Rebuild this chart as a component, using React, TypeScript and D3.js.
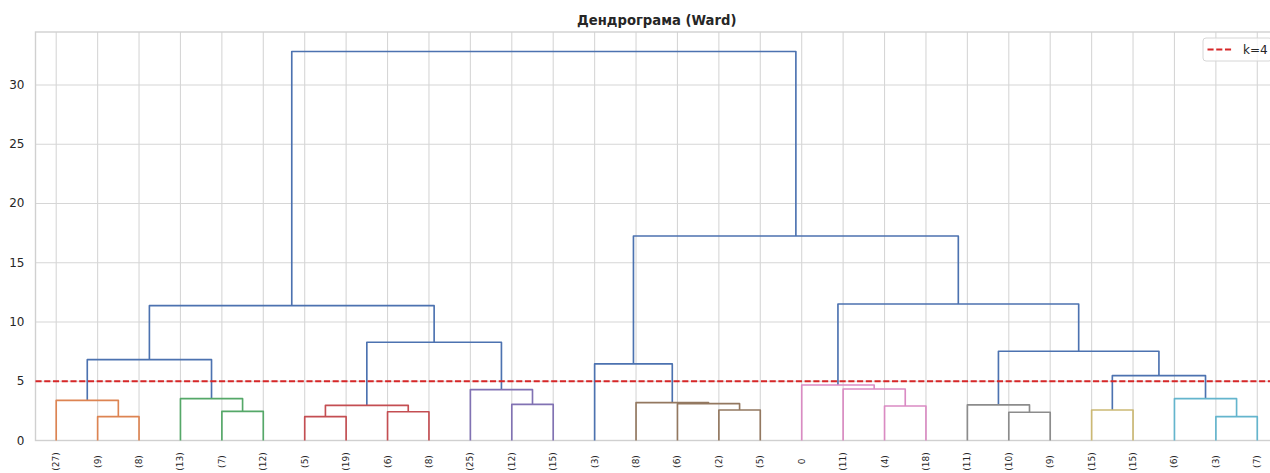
import React from 'react';
import * as d3 from 'd3';

// Leaf labels in dendrogram order (truncated clusters show their size)
const leafLabels: string[] = [
  '(27)', '(9)', '(8)', '(13)', '(7)', '(12)', '(5)', '(19)', '(6)', '(8)',
  '(25)', '(12)', '(15)', '(3)', '(8)', '(6)', '(2)', '(5)', '0', '(11)',
  '(4)', '(18)', '(11)', '(10)', '(9)', '(15)', '(15)', '(6)', '(3)', '(7)',
];

// Linkage rows: [left node, right node, merge distance]; node ids >= 30 refer to earlier rows
const linkage: [number, number, number][] = [
  [1, 2, 2.01],
  [6, 7, 2.01],
  [28, 29, 2.01],
  [23, 24, 2.38],
  [8, 9, 2.43],
  [4, 5, 2.46],
  [16, 17, 2.57],
  [25, 26, 2.57],
  [20, 21, 2.91],
  [31, 34, 2.97],
  [22, 33, 3.0],
  [11, 12, 3.05],
  [15, 36, 3.11],
  [14, 42, 3.19],
  [0, 30, 3.39],
  [3, 35, 3.53],
  [27, 32, 3.53],
  [10, 41, 4.29],
  [19, 38, 4.35],
  [18, 48, 4.68],
  [37, 46, 5.47],
  [13, 43, 6.46],
  [44, 45, 6.82],
  [40, 50, 7.53],
  [39, 47, 8.29],
  [52, 54, 11.38],
  [49, 53, 11.52],
  [51, 56, 17.26],
  [55, 57, 32.83],
];

const cutHeight = 5;
const cutLabel = 'k=4';
const yTicks = [0, 5, 10, 15, 20, 25, 30];
const title = 'Дендрограма (Ward)';

const clusterPalette = ['#dd8452', '#55a868', '#c44e52', '#8172b3', '#937860', '#da8bc3', '#8c8c8c', '#ccb974', '#64b5cd'];
const aboveColor = '#4c72b0';

interface TreeNode {
  id: number;
  height: number;
  children?: TreeNode[];
}

function buildTree(): TreeNode {
  const n = leafLabels.length;
  const nodes: TreeNode[] = leafLabels.map((_, i) => ({ id: i, height: 0 }));
  linkage.forEach(([a, b, h], i) => {
    nodes.push({ id: n + i, height: h, children: [nodes[a], nodes[b]] });
  });
  return nodes[nodes.length - 1];
}

const W = 1270;
const H = 473;
const plot = { left: 35.5, right: 1278, top: 32, bottom: 440.5 };
const FONT = 'DejaVu Sans, sans-serif';
const TEXT = '#262626';

export default function App() {
  const treeRoot = buildTree();
  const root = d3.hierarchy<TreeNode>(treeRoot, (d) => d.children);
  const nLeaves = leafLabels.length;
  // scipy-style leaf coordinates: 5, 15, 25, ...
  d3.cluster<TreeNode>().size([nLeaves * 10, 1]).separation(() => 1)(root);

  const maxH = d3.max(linkage, (r) => r[2]) as number;
  const x = d3.scaleLinear().domain([0, nLeaves * 10]).range([plot.left, plot.right]);
  const y = d3.scaleLinear().domain([0, maxH * 1.05]).range([plot.bottom, plot.top]);

  // Colour each sub-tree below the cut in left-to-right order
  const colorOf = new Map<number, string>();
  let ci = 0;
  root.eachBefore((node) => {
    const h = node.data.height;
    if (!node.children) return;
    if (h < cutHeight) {
      const parentColor = node.parent && node.parent.data.height < cutHeight ? colorOf.get(node.parent.data.id) : undefined;
      if (parentColor) colorOf.set(node.data.id, parentColor);
      else colorOf.set(node.data.id, clusterPalette[ci++ % clusterPalette.length]);
    } else {
      colorOf.set(node.data.id, aboveColor);
    }
  });

  const links: { d: string; color: string; key: number }[] = [];
  root.each((node) => {
    if (!node.children) return;
    const [a, b] = node.children;
    const path = d3.path();
    path.moveTo(x(a.x as number), y(a.data.height));
    path.lineTo(x(a.x as number), y(node.data.height));
    path.lineTo(x(b.x as number), y(node.data.height));
    path.lineTo(x(b.x as number), y(b.data.height));
    links.push({ d: path.toString(), color: colorOf.get(node.data.id) as string, key: node.data.id });
  });

  const leaves = root.leaves();
  const dash = '6.1,2.64';

  const legend = { x: 1203, y: 38, w: 69, h: 23 };

  return (
    <svg width={W} height={H} style={{ position: 'absolute', left: 0, top: 0, background: '#fff' }} fontFamily={FONT}>
      <rect x={0} y={0} width={W} height={H} fill="#fff" />
      {/* grid */}
      <g stroke="#d6d6d6" strokeWidth={1.1}>
        {leaves.map((l) => (
          <line key={'gx' + l.data.id} x1={x(l.x as number)} x2={x(l.x as number)} y1={plot.top} y2={plot.bottom} />
        ))}
        {yTicks.map((t) => (
          <line key={'gy' + t} x1={plot.left} x2={plot.right} y1={y(t)} y2={y(t)} />
        ))}
      </g>
      {/* spines */}
      <rect x={plot.left} y={plot.top} width={plot.right - plot.left} height={plot.bottom - plot.top} fill="none" stroke="#d0d0d0" strokeWidth={1.4} />
      {/* dendrogram links */}
      <g fill="none" strokeWidth={1.65} strokeLinejoin="round">
        {links.map((l) => (
          <path key={l.key} d={l.d} stroke={l.color} />
        ))}
      </g>
      {/* cut line */}
      <line x1={plot.left} x2={plot.right} y1={y(cutHeight)} y2={y(cutHeight)} stroke="#d62728" strokeWidth={1.8} strokeDasharray={dash} />
      {/* y tick labels */}
      <g fontSize={12} fill={TEXT} textAnchor="end">
        {yTicks.map((t) => (
          <text key={'yt' + t} x={24.5} y={y(t)} dominantBaseline="central">{t}</text>
        ))}
      </g>
      {/* x tick labels */}
      <g fontSize={9} fill={TEXT} textAnchor="middle">
        {leaves.map((l) => (
          <text key={'xt' + l.data.id} transform={`translate(${x(l.x as number)},461.5) rotate(-90)`} dominantBaseline="central">
            {leafLabels[l.data.id]}
          </text>
        ))}
      </g>
      {/* title */}
      <text x={(plot.left + plot.right) / 2} y={25} textAnchor="middle" fontSize={13.2} fontWeight="bold" fill={TEXT}>{title}</text>
      {/* legend */}
      <g>
        <rect x={legend.x} y={legend.y} width={legend.w} height={legend.h} rx={3} fill="#fff" fillOpacity={0.8} stroke="#d6d6d6" strokeWidth={1} />
        <line x1={1207.5} x2={1232} y1={49.5} y2={49.5} stroke="#d62728" strokeWidth={1.8} strokeDasharray={dash} />
        <text x={1243} y={49.5} fontSize={12} fill={TEXT} dominantBaseline="central">{cutLabel}</text>
      </g>
    </svg>
  );
}
